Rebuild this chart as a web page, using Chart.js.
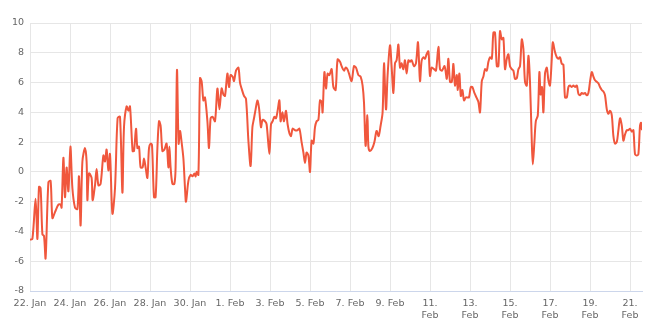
<!DOCTYPE html>
<html>
<head>
<meta charset="utf-8">
<script src="https://cdn.jsdelivr.net/npm/chart.js@4/dist/chart.umd.min.js"></script>
<style>
    html, body { margin: 0; padding: 0; background: #fff; }
    #wrap { width: 670px; height: 326px; position: relative; }
</style>
</head>
<body>
<div id="wrap"><canvas id="tempChart"></canvas></div>
<script>
// days after 22 Jan, 00:00
var days = [
    0.00, 0.12, 0.28, 0.37, 0.45, 0.53, 0.62, 0.70, 0.78, 0.92, 1.03, 1.12, 1.25, 1.42, 1.53, 1.58,
    1.67, 1.75, 1.83, 1.92, 2.02, 2.12, 2.25, 2.37, 2.45, 2.53, 2.62, 2.75, 2.83, 2.87, 2.95, 3.08,
    3.13, 3.25, 3.33, 3.42, 3.53, 3.67, 3.75, 3.83, 3.92, 4.00, 4.12, 4.25, 4.38, 4.50, 4.62, 4.70,
    4.83, 4.92, 5.00, 5.13, 5.20, 5.30, 5.37, 5.45, 5.53, 5.63, 5.70, 5.78, 5.87, 5.95, 6.03, 6.10,
    6.20, 6.28, 6.37, 6.45, 6.53, 6.62, 6.72, 6.83, 6.92, 6.97, 7.03, 7.12, 7.22, 7.28, 7.35, 7.43,
    7.50, 7.58, 7.67, 7.75, 7.80, 7.92, 8.03, 8.13, 8.22, 8.28, 8.33, 8.42, 8.50, 8.58, 8.67, 8.75,
    8.87, 8.95, 9.03, 9.13, 9.25, 9.37, 9.47, 9.58, 9.67, 9.75, 9.87, 9.95, 10.03, 10.13, 10.20, 10.30,
    10.42, 10.50, 10.58, 10.70, 10.80, 10.92, 11.03, 11.12, 11.20, 11.28, 11.37, 11.45, 11.55, 11.63, 11.75, 11.83,
    11.97, 12.05, 12.13, 12.22, 12.30, 12.38, 12.47, 12.53, 12.62, 12.70, 12.80, 12.88, 12.97, 13.05, 13.13, 13.25,
    13.37, 13.47, 13.58, 13.67, 13.75, 13.83, 13.92, 14.00, 14.08, 14.17, 14.25, 14.33, 14.42, 14.50, 14.58, 14.63,
    14.72, 14.80, 14.88, 14.97, 15.08, 15.17, 15.28, 15.38, 15.50, 15.58, 15.70, 15.78, 15.87, 15.95, 16.08, 16.20,
    16.30, 16.42, 16.53, 16.63, 16.70, 16.78, 16.87, 16.92, 17.00, 17.12, 17.22, 17.33, 17.43, 17.53, 17.63, 17.70,
    17.80, 17.88, 18.00, 18.08, 18.17, 18.25, 18.33, 18.42, 18.50, 18.58, 18.67, 18.75, 18.83, 18.92, 19.00, 19.08,
    19.20, 19.30, 19.40, 19.50, 19.58, 19.67, 19.75, 19.83, 19.92, 20.00, 20.08, 20.20, 20.30, 20.42, 20.50, 20.60,
    20.73, 20.84, 20.92, 21.00, 21.09, 21.17, 21.25, 21.34, 21.39, 21.47, 21.54, 21.62, 21.70, 21.79, 21.87, 21.95,
    22.04, 22.12, 22.22, 22.34, 22.42, 22.50, 22.59, 22.67, 22.75, 22.84, 22.92, 23.00, 23.09, 23.17, 23.25, 23.34,
    23.42, 23.50, 23.59, 23.67, 23.75, 23.84, 23.92, 24.00, 24.09, 24.17, 24.25, 24.34, 24.42, 24.50, 24.59, 24.67,
    24.75, 24.84, 24.92, 25.00, 25.09, 25.14, 25.22, 25.29, 25.39, 25.47, 25.53, 25.60, 25.67, 25.75, 25.84, 25.92,
    26.00, 26.09, 26.14, 26.25, 26.34, 26.42, 26.50, 26.59, 26.67, 26.75, 26.84, 26.92, 27.00, 27.09, 27.17, 27.25,
    27.34, 27.42, 27.50, 27.59, 27.67, 27.75, 27.84, 27.92, 28.00, 28.09, 28.17, 28.25, 28.34, 28.42, 28.50, 28.59,
    28.67, 28.75, 28.84, 28.92, 29.00, 29.09, 29.17, 29.25, 29.34, 29.42, 29.50, 29.59, 29.67, 29.75, 29.84, 29.92,
    30.00, 30.09, 30.17, 30.25, 30.34, 30.42, 30.50, 30.55, 30.60
];

var temps = [
    -4.56, -4.5, -1.8, -4.5, -1.0, -1.1, -4.2, -4.3, -5.8, -0.7, -0.6, -3.1, -2.7, -2.2, -2.2, -2.4,
    0.95, -1.7, 0.3, -1.3, 1.7, -1.1, -2.4, -2.5, -0.3, -3.6, 0.7, 1.6, 0.7, -1.9, -0.1, -0.4,
    -1.9, -0.9, 0.2, -0.9, -0.8, 1.1, 0.7, 1.5, 0.1, 1.2, -2.8, -1.1, 3.6, 3.7, -1.4, 3.0,
    4.4, 4.1, 4.4, 1.4, 1.4, 2.9, 1.6, 1.7, 0.3, 0.3, 0.9, 0.3, -0.4, 1.6, 1.9, 1.8,
    -1.7, -1.7, 1.6, 3.4, 3.1, 1.4, 1.5, 1.9, 0.3, 1.7, 0.3, -0.8, -0.8, 0.3, 6.85, 1.9,
    2.75, 2.0, 0.9, -1.1, -2.0, -0.6, -0.2, -0.3, -0.1, -0.3, 0.0, -0.2, 6.3, 6.1, 4.8, 5.0,
    3.4, 1.6, 3.6, 3.7, 3.4, 5.6, 4.2, 5.6, 5.2, 5.1, 6.6, 5.7, 6.5, 6.4, 6.1, 6.8,
    7.0, 6.0, 5.6, 5.1, 4.9, 2.1, 0.4, 3.0, 3.6, 4.2, 4.8, 4.3, 3.0, 3.5, 3.4, 3.2,
    1.2, 3.2, 3.4, 3.7, 3.6, 4.1, 4.8, 3.4, 4.0, 3.4, 4.1, 3.2, 2.6, 2.4, 2.9, 2.8,
    2.8, 2.9, 2.0, 1.3, 0.6, 1.3, 1.1, 0.0, 2.1, 1.9, 3.0, 3.4, 3.5, 4.8, 4.7, 4.0,
    6.7, 5.6, 6.6, 6.5, 6.9, 5.7, 5.5, 7.55, 7.4, 7.1, 6.8, 7.0, 6.9, 6.6, 6.1, 7.1,
    7.0, 6.5, 6.4, 5.8, 4.65, 1.75, 3.8, 1.7, 1.4, 1.6, 2.0, 2.75, 2.4, 3.1, 4.0, 7.3,
    4.2, 6.5, 8.5, 7.1, 5.3, 7.3, 7.5, 8.55, 7.0, 7.3, 6.9, 7.5, 6.6, 7.5, 7.4, 7.5,
    7.1, 7.3, 8.7, 6.1, 7.45, 7.7, 7.6, 7.9, 8.1, 6.45, 7.0, 6.9, 6.8, 8.4, 6.9, 6.8,
    7.1, 6.25, 7.6, 6.05, 6.05, 7.25, 5.8, 6.5, 5.5, 6.6, 5.1, 5.5, 4.8, 5.0, 5.0, 5.0,
    5.7, 5.7, 5.3, 4.95, 4.7, 4.0, 6.1, 6.4, 6.9, 6.8, 7.4, 7.7, 7.6, 9.35, 9.35, 7.1,
    7.1, 9.45, 8.9, 9.0, 6.9, 7.6, 7.9, 7.1, 6.9, 6.8, 6.25, 6.3, 6.9, 7.1, 8.9, 8.25,
    6.05, 5.8, 7.8, 6.05, 2.0, 0.5, 2.0, 3.4, 3.8, 6.7, 5.2, 5.7, 4.0, 6.6, 7.0, 6.15,
    5.8, 7.6, 8.7, 8.05, 7.7, 7.6, 7.7, 7.25, 7.2, 5.0, 5.0, 5.7, 5.8, 5.7, 5.8, 5.7,
    5.8, 5.25, 5.15, 5.3, 5.25, 5.3, 5.15, 5.3, 6.05, 6.7, 6.4, 6.15, 6.05, 5.95, 5.7, 5.5,
    5.4, 5.15, 4.2, 3.9, 4.1, 3.8, 2.4, 1.9, 2.0, 2.8, 3.6, 3.1, 2.1, 2.5, 2.8, 2.8,
    2.9, 2.7, 2.8, 1.2, 1.1, 1.2, 3.1, 3.3, 2.8
];

var tickDays = [0, 2, 4, 6, 8, 10, 12, 14, 16, 18, 20, 22, 24, 26, 28, 30];
var tickLabels = [
    '22. Jan', '24. Jan', '26. Jan', '28. Jan', '30. Jan', '1. Feb', '3. Feb', '5. Feb',
    '7. Feb', '9. Feb', ['11.', 'Feb'], ['13.', 'Feb'], ['15.', 'Feb'], ['17.', 'Feb'],
    ['19.', 'Feb'], ['21.', 'Feb']
];
var yTicks = [-8, -6, -4, -2, 0, 2, 4, 6, 8, 10];

(function () {
    var points = days.map(function (d, i) { return { x: d, y: temps[i] }; });
    var labelFont = { family: '"DejaVu Sans", sans-serif', size: 9.5 };

    new Chart(document.getElementById('tempChart').getContext('2d'), {
        type: 'line',
        data: {
            datasets: [{
                data: points,
                borderColor: '#f0573d',
                borderWidth: 2,
                pointRadius: 0,
                tension: 0.3,
                fill: false
            }]
        },
        options: {
            responsive: true,
            maintainAspectRatio: false,
            animation: false,
            layout: { padding: { top: 23, right: 28, left: 0, bottom: 0 } },
            plugins: { legend: { display: false }, tooltip: { enabled: false } },
            scales: {
                x: {
                    type: 'linear',
                    min: 0,
                    max: 30.6,
                    afterFit: function (scale) { scale.height = 35; },
                    grid: { color: '#e6e6e6', drawTicks: false },
                    border: { color: '#ccd6eb' },
                    ticks: {
                        stepSize: 2,
                        includeBounds: false,
                        autoSkip: false,
                        maxRotation: 0,
                        minRotation: 0,
                        padding: 7,
                        color: '#666666',
                        font: labelFont,
                        callback: function (value) {
                            var i = tickDays.indexOf(value);
                            return i >= 0 ? tickLabels[i] : '';
                        }
                    }
                },
                y: {
                    min: yTicks[0],
                    max: yTicks[yTicks.length - 1],
                    afterFit: function (scale) { scale.width = 30; },
                    grid: { color: '#e6e6e6', drawTicks: false },
                    border: { display: false },
                    ticks: {
                        stepSize: 2,
                        padding: 6,
                        color: '#666666',
                        font: labelFont
                    }
                }
            }
        }
    });
})();
</script>
</body>
</html>
